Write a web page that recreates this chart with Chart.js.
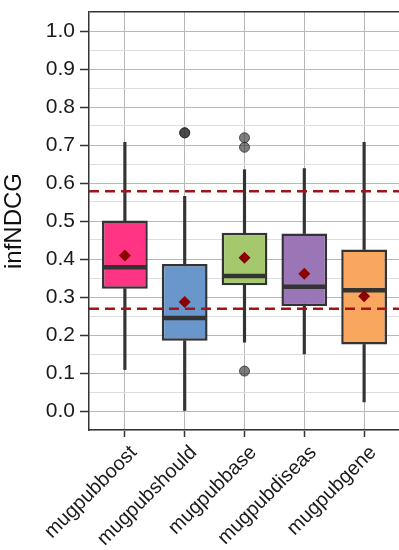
<!DOCTYPE html>
<html><head><meta charset="utf-8">
<script src="https://cdn.jsdelivr.net/npm/chart.js@4"></script>
<style>html,body{margin:0;padding:0;overflow:hidden;background:#fff}canvas{display:block}</style>
</head><body><canvas id="c" width="410" height="550"></canvas>
<script>
const categories = ['mugpubboost','mugpubshould','mugpubbase','mugpubdiseas','mugpubgene'];
const whiskerLow  = [0.109, 0.000, 0.181, 0.150, 0.024];
const q1          = [0.322, 0.185, 0.331, 0.276, 0.175];
const median      = [0.378, 0.245, 0.355, 0.327, 0.318];
const q3          = [0.501, 0.387, 0.469, 0.467, 0.425];
const whiskerHigh = [0.707, 0.565, 0.635, 0.638, 0.707];
const mean        = [0.409, 0.287, 0.403, 0.361, 0.302];
const outlierCat  = ['mugpubshould','mugpubshould','mugpubbase','mugpubbase','mugpubbase'];
const outlierVal  = [0.732, 0.732, 0.719, 0.694, 0.105];
const refLines    = [0.578, 0.269];
const yTickLabels = [0.0,0.1,0.2,0.3,0.4,0.5,0.6,0.7,0.8,0.9,1.0];
const boxColors   = ['#FF3482','#6A97CB','#A6C86D','#9A76B6','#F9A65E'];

const pos = c => categories.indexOf(c) + 1;
const FONT = "'Liberation Sans', Arial, sans-serif";
const dark = '#333333';

const datasets = [
  { type:'scatter', label:'mean', order:1,
    data: categories.map((c,i)=>({x:i+1,y:mean[i]})),
    pointStyle:'rectRot', pointRadius:6, backgroundColor:'#8B0000', borderColor:'#8B0000', borderWidth:0 },
  { type:'scatter', label:'outliers', order:2,
    data: outlierCat.map((c,i)=>({x:pos(c),y:outlierVal[i]})),
    pointStyle:'circle', pointRadius:5, backgroundColor:'rgba(40,40,40,0.6)', borderColor:'rgba(40,40,40,0.75)', borderWidth:1 },
  { type:'scatter', label:'median', order:3,
    data: categories.map((c,i)=>({x:i+1,y:median[i]})),
    pointStyle:'line', pointRadius:22, borderColor:dark, borderWidth:4.5 },
  { type:'bar', label:'box', order:4, grouped:false,
    data: categories.map((c,i)=>({x:i+1,y:[q1[i],q3[i]]})),
    backgroundColor: boxColors, borderColor: dark, borderWidth:2.5, borderSkipped:false,
    barPercentage:0.765, categoryPercentage:1 },
  { type:'bar', label:'whiskerLow', order:5, grouped:false,
    data: categories.map((c,i)=>({x:i+1,y:[whiskerLow[i],q1[i]]})),
    backgroundColor: dark, barThickness:2.5 },
  { type:'bar', label:'whiskerHigh', order:5, grouped:false,
    data: categories.map((c,i)=>({x:i+1,y:[q3[i],whiskerHigh[i]]})),
    backgroundColor: dark, barThickness:2.5 }
];
refLines.forEach((v,k)=>{
  datasets.push({ type:'line', label:'ref'+k, order:0,
    data:[{x:0.4,y:v},{x:5.6,y:v}], borderColor:'#A0141A', borderWidth:2.5, borderDash:[10,6], pointRadius:0 });
});

const isMajor = v => Math.abs(Math.round(v*10) - v*10) < 1e-6;

new Chart(document.getElementById('c'), {
  type:'bar',
  data:{ datasets },
  options:{
    responsive:false, animation:false, devicePixelRatio:1,
    layout:{ autoPadding:false, padding:{ top:12, right:10, left:0, bottom:0 } },
    plugins:{ legend:{display:false}, tooltip:{enabled:false} },
    scales:{
      x:{ type:'linear', min:0.4, max:5.6, offset:false,
        afterBuildTicks: s => { s.ticks = categories.map((c,i)=>({value:i+1})); },
        afterFit: s => { s.height = 120; s.paddingRight = 0; s.paddingLeft = 0; },
        ticks:{ autoSkip:false, maxRotation:45, minRotation:45, padding:4, labelOffset:9, color:'#1a1a1a',
          font:{family:FONT, size:20}, callback: v => categories[Math.round(v)-1] },
        grid:{ offset:false, color:'#b8b8b8', lineWidth:1, tickColor:dark, tickLength:7, tickWidth:1.5 },
        border:{ color:dark, width:1.5 } },
      y:{ min:-0.05, max:1.05,
        afterBuildTicks: s => { const t=[]; for(let i=-1;i<=21;i++) t.push({value:Math.round(i*5)/100}); s.ticks=t; },
        afterFit: s => { s.width = 89; s.paddingTop = 0; s.paddingBottom = 0; },
        ticks:{ autoSkip:false, padding:5, color:'#1a1a1a', font:{family:FONT, size:21},
          callback: v => (yTickLabels.some(t=>Math.abs(t-v)<1e-6) ? v.toFixed(1) : '') },
        grid:{ lineWidth: c => (c.tick && c.tick.value > 1.04 ? 1.5 : 1),
          color: c => { const v=c.tick?c.tick.value:0; if (v>1.04) return dark; return isMajor(v)?'#b8b8b8':'#dedede'; },
          tickColor: c => { const v=c.tick?c.tick.value:0; return (isMajor(v) && v>-0.01 && v<1.01) ? dark : 'rgba(0,0,0,0)'; },
          tickLength:9, tickWidth:1.5 },
        border:{ color:dark, width:1.5 },
        title:{ display:true, text:'infNDCG', color:'#111', font:{family:FONT, size:24}, padding:0 } }
    }
  }
});
</script>
</body></html>
